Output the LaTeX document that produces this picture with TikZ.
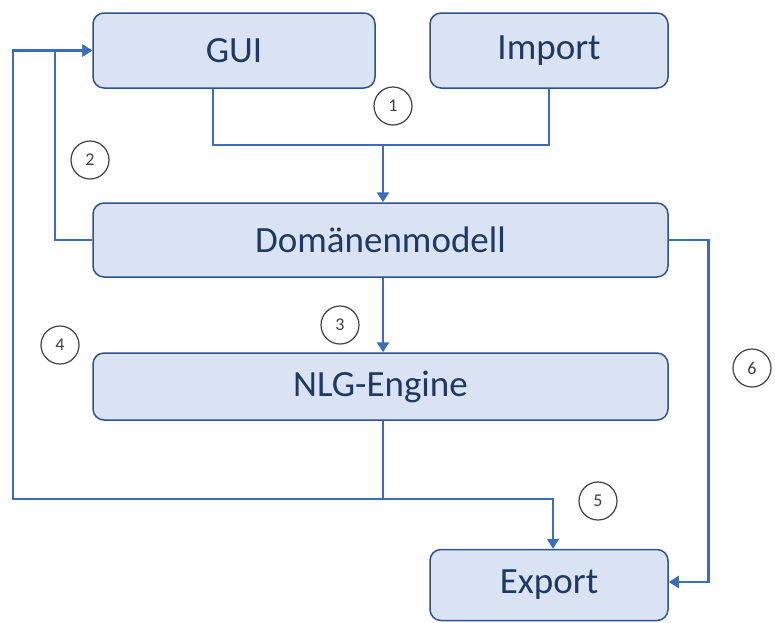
\documentclass[tikz,border=0pt]{standalone}
\usepackage{fontspec}
\setmainfont{Carlito}
\usetikzlibrary{arrows.meta}
\definecolor{boxfill}{HTML}{DAE3F3}
\definecolor{boxline}{HTML}{2F528F}
\definecolor{boxtext}{HTML}{203864}
\definecolor{flow}{HTML}{3C6DB8}
\tikzset{
  blk/.style={draw=boxline,fill=boxfill,line width=1.5pt,rounded corners=11pt,
    text=boxtext,font=\fontsize{37}{42}\selectfont},
  flowline/.style={draw=flow,line width=2.6pt},
  num/.style={circle,draw=black!75,fill=white,line width=1.2pt,minimum size=38pt,
    inner sep=0pt,text=black!75,font=\fontsize{18}{21}\selectfont}
}
\begin{document}
\begin{tikzpicture}[x=1pt,y=-1pt,>={Triangle[width=12pt,length=10pt]}]
  \useasboundingbox (0,0) rectangle (775,622);
  % boxes
  \node[blk,minimum width=282pt,minimum height=75pt] (gui) at (234,50.5) {GUI};
  \node[blk,minimum width=238pt,minimum height=75pt] (imp) at (549,50.5) {Import};
  \node[blk,minimum width=575pt,minimum height=74pt] (dom) at (380.5,240) {Domänenmodell};
  \node[blk,minimum width=575pt,minimum height=67pt] (nlg) at (380.5,386.5) {NLG-Engine};
  \node[blk,minimum width=238pt,minimum height=71pt] (exp) at (549,585) {Export};
  % junctions
  \coordinate (j1) at (383,145);
  \coordinate (j5) at (383,499);
  \coordinate (l2) at (55,0);
  \coordinate (l4) at (13,0);
  % connectors
  \draw[flowline] ([xshift=-21pt]gui.south) |- (j1) -| (imp.south);
  \draw[flowline,->] (j1) -- (dom.north -| j1);
  \draw[flowline,->] (dom.south -| j1) -- (nlg.north -| j1);
  \draw[flowline,->] (dom.west) -| (l2 |- gui.west) -- (gui.west);
  \draw[flowline] (nlg.south -| j5) -- (j5);
  \draw[flowline,->] (j5) -| (l4 |- gui.west) -- (gui.west);
  \draw[flowline,->] (j5) -| ([xshift=4pt]exp.north);
  \draw[flowline,->] (dom.east) -- ++(40,0) |- ([yshift=3pt]exp.east);
  % step numbers
  \node[num] (n1) at (393,106) {1};
  \node[num] (n2) at (90,160) {2};
  \node[num] (n3) at (340,325) {3};
  \node[num] (n4) at (60,345) {4};
  \node[num] (n5) at (598,501) {5};
  \node[num] (n6) at (752,368) {6};
\end{tikzpicture}
\end{document}
